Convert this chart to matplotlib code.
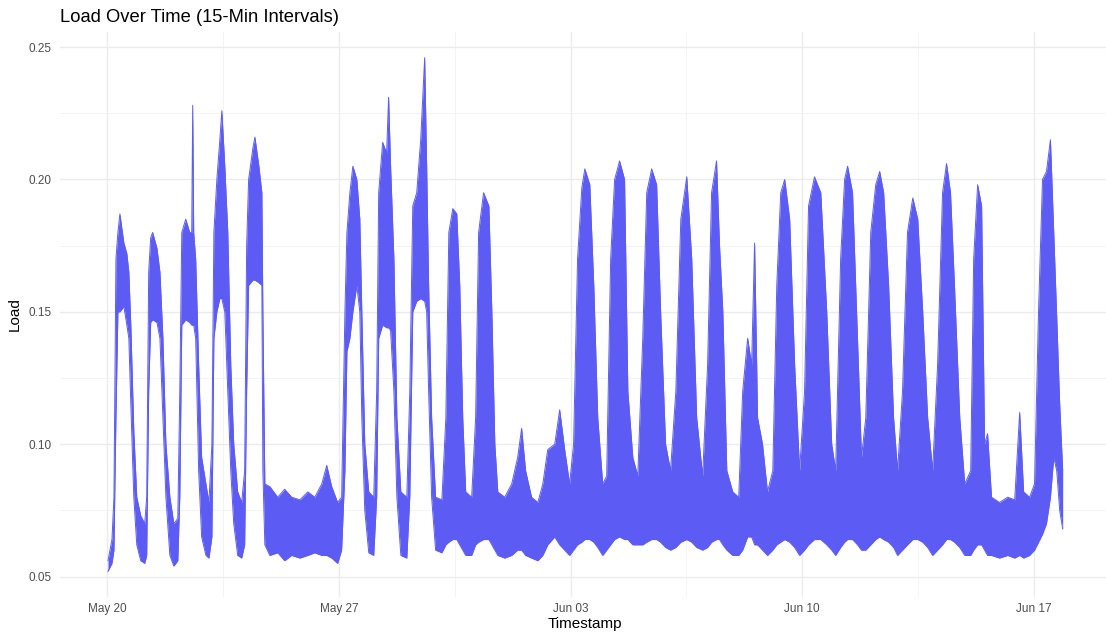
import numpy as np
import pandas as pd
import matplotlib
matplotlib.use("Agg")
import matplotlib.pyplot as plt
import matplotlib.ticker as mticker

plt.rcParams["font.family"] = ["Liberation Sans", "DejaVu Sans"]

# envelope of the 15-min load series: days since 2024-05-20, lower / upper load
start = pd.Timestamp("2024-05-20")
day_offset = [
    0.02, 0.14, 0.20, 0.26, 0.32, 0.38, 0.50, 0.59, 0.65, 0.71, 0.80, 0.89, 1.01, 1.13,
    1.19, 1.25, 1.31, 1.37, 1.50, 1.59, 1.68, 1.77, 1.89, 2.01, 2.13,
    2.19, 2.25, 2.37, 2.49, 2.55, 2.58, 2.61, 2.67, 2.76, 2.85, 2.98, 3.07,
    3.16, 3.22, 3.31, 3.40, 3.46, 3.55, 3.64, 3.73, 3.82, 3.94, 4.06,
    4.15, 4.21, 4.27, 4.40, 4.46, 4.58, 4.67, 4.70, 4.76,
    4.91, 5.15, 5.36, 5.57, 5.82, 6.06, 6.27, 6.48, 6.63, 6.78, 6.96, 7.08,
    7.18, 7.24, 7.33, 7.42, 7.54, 7.63, 7.69, 7.78, 7.90, 8.05,
    8.14, 8.20, 8.32, 8.44, 8.50, 8.56, 8.66, 8.75, 8.87, 9.05,
    9.14, 9.23, 9.35, 9.47, 9.59, 9.65, 9.71, 9.80, 9.92, 10.11,
    10.23, 10.32, 10.44, 10.56, 10.65, 10.74, 10.83, 11.01,
    11.13, 11.22, 11.37, 11.53, 11.62, 11.71, 11.80,
    12.01, 12.22, 12.40, 12.52, 12.64, 12.82, 13.01, 13.16, 13.31, 13.52, 13.67, 13.82, 13.97,
    14.09, 14.21, 14.34, 14.43, 14.58, 14.70, 14.82, 14.97,
    15.09, 15.21, 15.33, 15.48, 15.63, 15.73, 15.88, 16.03,
    16.18, 16.30, 16.45, 16.60, 16.72, 16.87, 17.02,
    17.18, 17.33, 17.51, 17.66, 17.81, 17.99,
    18.14, 18.26, 18.41, 18.50, 18.60, 18.72, 18.90, 19.08,
    19.20, 19.35, 19.47, 19.56, 19.65, 19.80, 19.95,
    20.11, 20.23, 20.35, 20.47, 20.62, 20.77, 20.92,
    21.07, 21.19, 21.37, 21.56, 21.74, 21.89, 22.01,
    22.16, 22.28, 22.37, 22.52, 22.67, 22.79,
    22.92, 23.07, 23.22, 23.34, 23.46, 23.61, 23.76, 23.88,
    24.03, 24.18, 24.34, 24.49, 24.64, 24.79, 24.94,
    25.09, 25.24, 25.36, 25.48, 25.60, 25.76, 25.91,
    26.09, 26.18, 26.30, 26.42, 26.51, 26.60, 26.72, 26.96, 27.21, 27.42, 27.57, 27.69, 27.87, 28.02,
    28.14, 28.26, 28.38, 28.50, 28.60, 28.69, 28.78, 28.87,
]
load_low = [
    0.052, 0.055, 0.060, 0.110, 0.150, 0.150, 0.152, 0.145, 0.140, 0.115, 0.080, 0.062, 0.056, 0.055,
    0.058, 0.120, 0.146, 0.147, 0.146, 0.140, 0.110, 0.080, 0.058, 0.054, 0.056,
    0.080, 0.145, 0.147, 0.146, 0.145, 0.145, 0.145, 0.140, 0.090, 0.065, 0.058, 0.057,
    0.065, 0.140, 0.150, 0.155, 0.155, 0.150, 0.120, 0.090, 0.070, 0.058, 0.057,
    0.062, 0.120, 0.160, 0.162, 0.162, 0.161, 0.160, 0.090, 0.062,
    0.058, 0.059, 0.056, 0.058, 0.057, 0.058, 0.059, 0.058, 0.058, 0.057, 0.055, 0.060,
    0.090, 0.135, 0.140, 0.150, 0.160, 0.150, 0.110, 0.075, 0.059, 0.058,
    0.080, 0.140, 0.145, 0.144, 0.144, 0.143, 0.120, 0.080, 0.058, 0.057,
    0.080, 0.150, 0.154, 0.155, 0.154, 0.150, 0.120, 0.080, 0.060, 0.059,
    0.062, 0.063, 0.064, 0.064, 0.062, 0.060, 0.058, 0.058,
    0.062, 0.063, 0.064, 0.064, 0.062, 0.060, 0.058,
    0.057, 0.058, 0.060, 0.060, 0.058, 0.057, 0.056, 0.058, 0.062, 0.065, 0.062, 0.060, 0.058,
    0.060, 0.062, 0.063, 0.064, 0.064, 0.063, 0.061, 0.058,
    0.060, 0.062, 0.064, 0.065, 0.064, 0.064, 0.062, 0.062,
    0.062, 0.063, 0.064, 0.064, 0.063, 0.061, 0.060,
    0.061, 0.063, 0.064, 0.063, 0.061, 0.060,
    0.061, 0.063, 0.064, 0.064, 0.062, 0.060, 0.058, 0.058,
    0.060, 0.065, 0.065, 0.062, 0.062, 0.060, 0.058,
    0.060, 0.062, 0.063, 0.064, 0.063, 0.061, 0.058,
    0.060, 0.062, 0.064, 0.064, 0.062, 0.060, 0.058,
    0.061, 0.063, 0.064, 0.064, 0.062, 0.060,
    0.060, 0.062, 0.064, 0.065, 0.064, 0.063, 0.061, 0.058,
    0.060, 0.062, 0.064, 0.064, 0.063, 0.061, 0.058,
    0.060, 0.062, 0.064, 0.064, 0.063, 0.061, 0.058,
    0.058, 0.060, 0.062, 0.062, 0.060, 0.058, 0.058, 0.057, 0.058, 0.057, 0.058, 0.057, 0.058, 0.060,
    0.063, 0.066, 0.070, 0.080, 0.095, 0.090, 0.075, 0.068,
]
load_high = [
    0.056, 0.064, 0.080, 0.170, 0.180, 0.187, 0.176, 0.172, 0.165, 0.145, 0.105, 0.080, 0.073, 0.070,
    0.080, 0.165, 0.178, 0.180, 0.174, 0.165, 0.140, 0.100, 0.080, 0.070, 0.072,
    0.120, 0.180, 0.185, 0.180, 0.180, 0.228, 0.180, 0.170, 0.130, 0.095, 0.085, 0.078,
    0.100, 0.180, 0.200, 0.215, 0.226, 0.205, 0.180, 0.130, 0.100, 0.082, 0.078,
    0.090, 0.175, 0.200, 0.212, 0.216, 0.205, 0.195, 0.150, 0.085,
    0.084, 0.080, 0.083, 0.080, 0.079, 0.082, 0.080, 0.085, 0.092, 0.084, 0.078, 0.080,
    0.150, 0.180, 0.195, 0.205, 0.200, 0.185, 0.150, 0.100, 0.082, 0.080,
    0.120, 0.195, 0.214, 0.210, 0.231, 0.205, 0.170, 0.110, 0.082, 0.080,
    0.120, 0.190, 0.195, 0.215, 0.246, 0.205, 0.160, 0.110, 0.080, 0.079,
    0.110, 0.180, 0.189, 0.187, 0.160, 0.110, 0.082, 0.080,
    0.110, 0.180, 0.195, 0.190, 0.150, 0.100, 0.082,
    0.080, 0.085, 0.095, 0.106, 0.090, 0.080, 0.078, 0.085, 0.098, 0.100, 0.113, 0.098, 0.085,
    0.100, 0.170, 0.197, 0.204, 0.198, 0.160, 0.110, 0.085,
    0.088, 0.170, 0.200, 0.207, 0.200, 0.120, 0.095, 0.088,
    0.140, 0.195, 0.204, 0.198, 0.150, 0.100, 0.090,
    0.120, 0.185, 0.201, 0.170, 0.110, 0.088,
    0.130, 0.195, 0.207, 0.175, 0.150, 0.090, 0.082, 0.080,
    0.120, 0.140, 0.130, 0.176, 0.110, 0.100, 0.082,
    0.090, 0.160, 0.195, 0.200, 0.185, 0.130, 0.090,
    0.120, 0.190, 0.201, 0.195, 0.150, 0.100, 0.090,
    0.170, 0.200, 0.205, 0.195, 0.140, 0.095,
    0.110, 0.180, 0.198, 0.203, 0.195, 0.160, 0.110, 0.090,
    0.120, 0.180, 0.193, 0.185, 0.150, 0.110, 0.090,
    0.130, 0.195, 0.206, 0.195, 0.160, 0.110, 0.085,
    0.090, 0.170, 0.198, 0.190, 0.100, 0.104, 0.080, 0.078, 0.080, 0.079, 0.112, 0.082, 0.080, 0.085,
    0.150, 0.200, 0.203, 0.215, 0.180, 0.148, 0.115, 0.090,
]

week_ticks = ["2024-05-20", "2024-05-27", "2024-06-03", "2024-06-10", "2024-06-17"]
y_ticks = [0.05, 0.10, 0.15, 0.20, 0.25]

times = start + pd.to_timedelta(day_offset, unit="D")
line_col = "#5c5cf4"

fig = plt.figure(figsize=(11.06, 6.36), dpi=100)
ax = fig.add_axes([60 / 1106, 39 / 636, 1050 / 1106, 565 / 636])

ax.fill_between(times, load_low, load_high, color=line_col, lw=0, zorder=3)
ax.plot(times, load_high, color=line_col, lw=0.7, zorder=3)
ax.plot(times, load_low, color=line_col, lw=0.7, zorder=3)

major_x = pd.to_datetime(week_ticks)
minor_x = major_x[:-1] + pd.Timedelta(days=3.5)
minor_x = minor_x.append(pd.DatetimeIndex([major_x[0] - pd.Timedelta(days=3.5),
                                          major_x[-1] + pd.Timedelta(days=3.5)]))
ax.set_xticks(major_x)
ax.set_xticklabels([d.strftime("%b %d") for d in major_x])
ax.set_xticks(minor_x, minor=True)
ax.set_yticks(y_ticks)
ax.yaxis.set_major_formatter(mticker.FormatStrFormatter("%.2f"))
ax.set_yticks([0.075, 0.125, 0.175, 0.225], minor=True)

# limits after the ticks, so the outer minor ticks do not widen the view
ax.set_xlim(start - pd.Timedelta(days=1.43), start + pd.Timedelta(days=30.30))
ax.set_ylim(0.0423, 0.2557)

ax.grid(which="major", color="#ebebeb", lw=1.0)
ax.grid(which="minor", color="#f3f3f3", lw=0.7)
ax.set_axisbelow(True)
for s in ax.spines.values():
    s.set_visible(False)
ax.tick_params(which="both", length=0, colors="#4d4d4d", labelsize=8.5)
ax.tick_params(axis="y", pad=6)
ax.tick_params(axis="x", pad=4)

ax.set_xlabel("Timestamp", fontsize=11, color="black", labelpad=2)
ax.set_ylabel("Load", fontsize=11, color="black", labelpad=5)
fig.text(60 / 1106, 1 - 17 / 636, "Load Over Time (15-Min Intervals)",
         fontsize=13.2, ha="left", va="center")

fig.savefig("out.png", dpi=100)
